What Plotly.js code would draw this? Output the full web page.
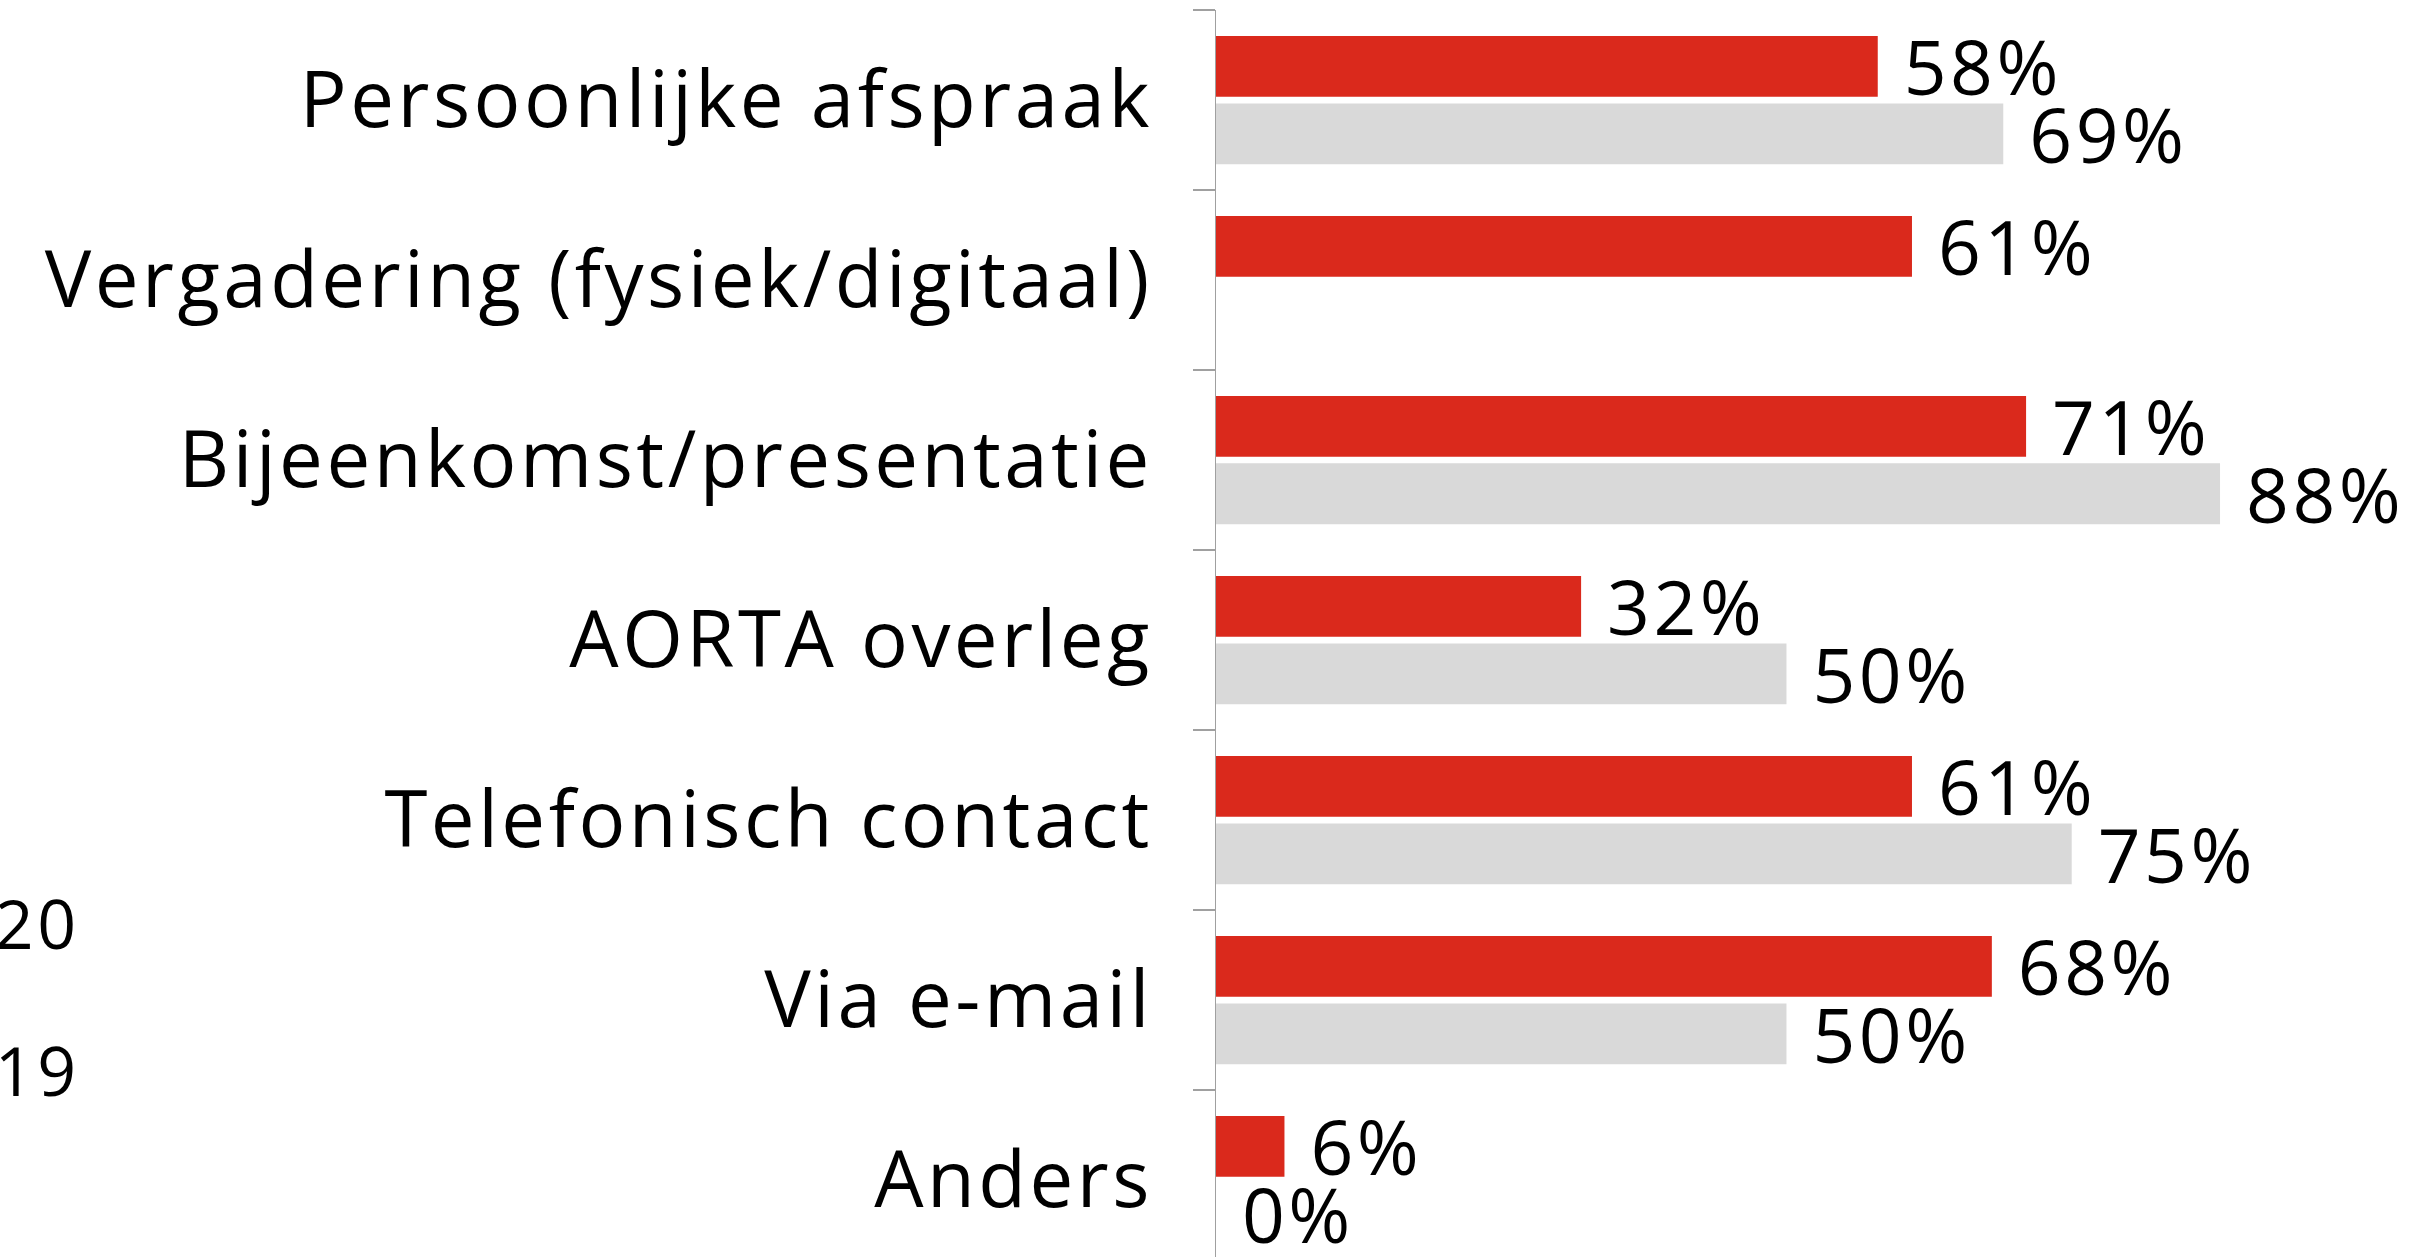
<!DOCTYPE html>
<html>
<head>
<meta charset="utf-8">
<script src="https://cdn.plot.ly/plotly-3.0.1.min.js"></script>
<style>
html, body { margin: 0; padding: 0; overflow: hidden; background: #fff; }
#chart { width: 2414px; height: 1280px; }
svg text { letter-spacing: 3.5px; }
</style>
</head>
<body>
<div id="chart"></div>
<script>
const categories = [
  "Persoonlijke afspraak",
  "Vergadering (fysiek/digitaal)",
  "Bijeenkomst/presentatie",
  "AORTA overleg",
  "Telefonisch contact",
  "Via e-mail",
  "Anders"
];
const values2020 = [58, 61, 71, 32, 61, 68, 6];
const values2019 = [69, null, 88, 50, 75, 50, 0];
const seriesNames = ["2020", "2019"];
const colors = ["#DA291C", "#D9D9D9"];

const FONT = "Open Sans, Noto Sans, sans-serif";

function labels(arr) { return arr.map(v => v === null ? "" : "\u00A0" + v + "%"); }

const traces = [values2020, values2019].map((vals, i) => ({
  type: "bar",
  orientation: "h",
  name: seriesNames[i],
  legendgroup: "g" + i,
  y: categories,
  x: vals,
  text: labels(vals),
  textposition: "outside",
  texttemplate: "%{text}",
  cliponaxis: false,
  constraintext: "none",
  textfont: { family: FONT, size: 75, color: "#000" },
  outsidetextfont: { family: FONT, size: 75, color: "#000" },
  marker: { color: colors[i], line: { width: 0 } },
  hoverinfo: "skip"
}));

const layout = {
  width: 2414,
  height: 1280,
  margin: { l: 1216, r: 0, t: 10, b: 10, autoexpand: false },
  paper_bgcolor: "#fff",
  plot_bgcolor: "#fff",
  barmode: "group",
  bargap: 0.25,
  bargroupgap: 0.1,
  font: { family: FONT, color: "#000" },
  showlegend: true,
  legend: {
    x: -1.1235, xanchor: "left",
    y: 0.2175, yanchor: "middle",
    traceorder: "grouped",
    tracegroupgap: 56,
    font: { family: FONT, size: 68, color: "#000" },
    bgcolor: "rgba(0,0,0,0)"
  },
  xaxis: {
    visible: false,
    range: [0, 105],
    fixedrange: true
  },
  yaxis: {
    type: "category",
    autorange: "reversed",
    showline: true,
    linecolor: "#A0A0A0",
    linewidth: 1.5,
    ticks: "outside",
    tickson: "boundaries",
    ticklen: 22,
    tickcolor: "#A0A0A0",
    tickwidth: 1.5,
    ticklabelstandoff: 46,
    showgrid: false,
    zeroline: false,
    tickfont: { family: FONT, size: 78, color: "#000" },
    fixedrange: true
  }
};

Plotly.newPlot("chart", traces, layout, { displayModeBar: false, staticPlot: true });
</script>
</body>
</html>
